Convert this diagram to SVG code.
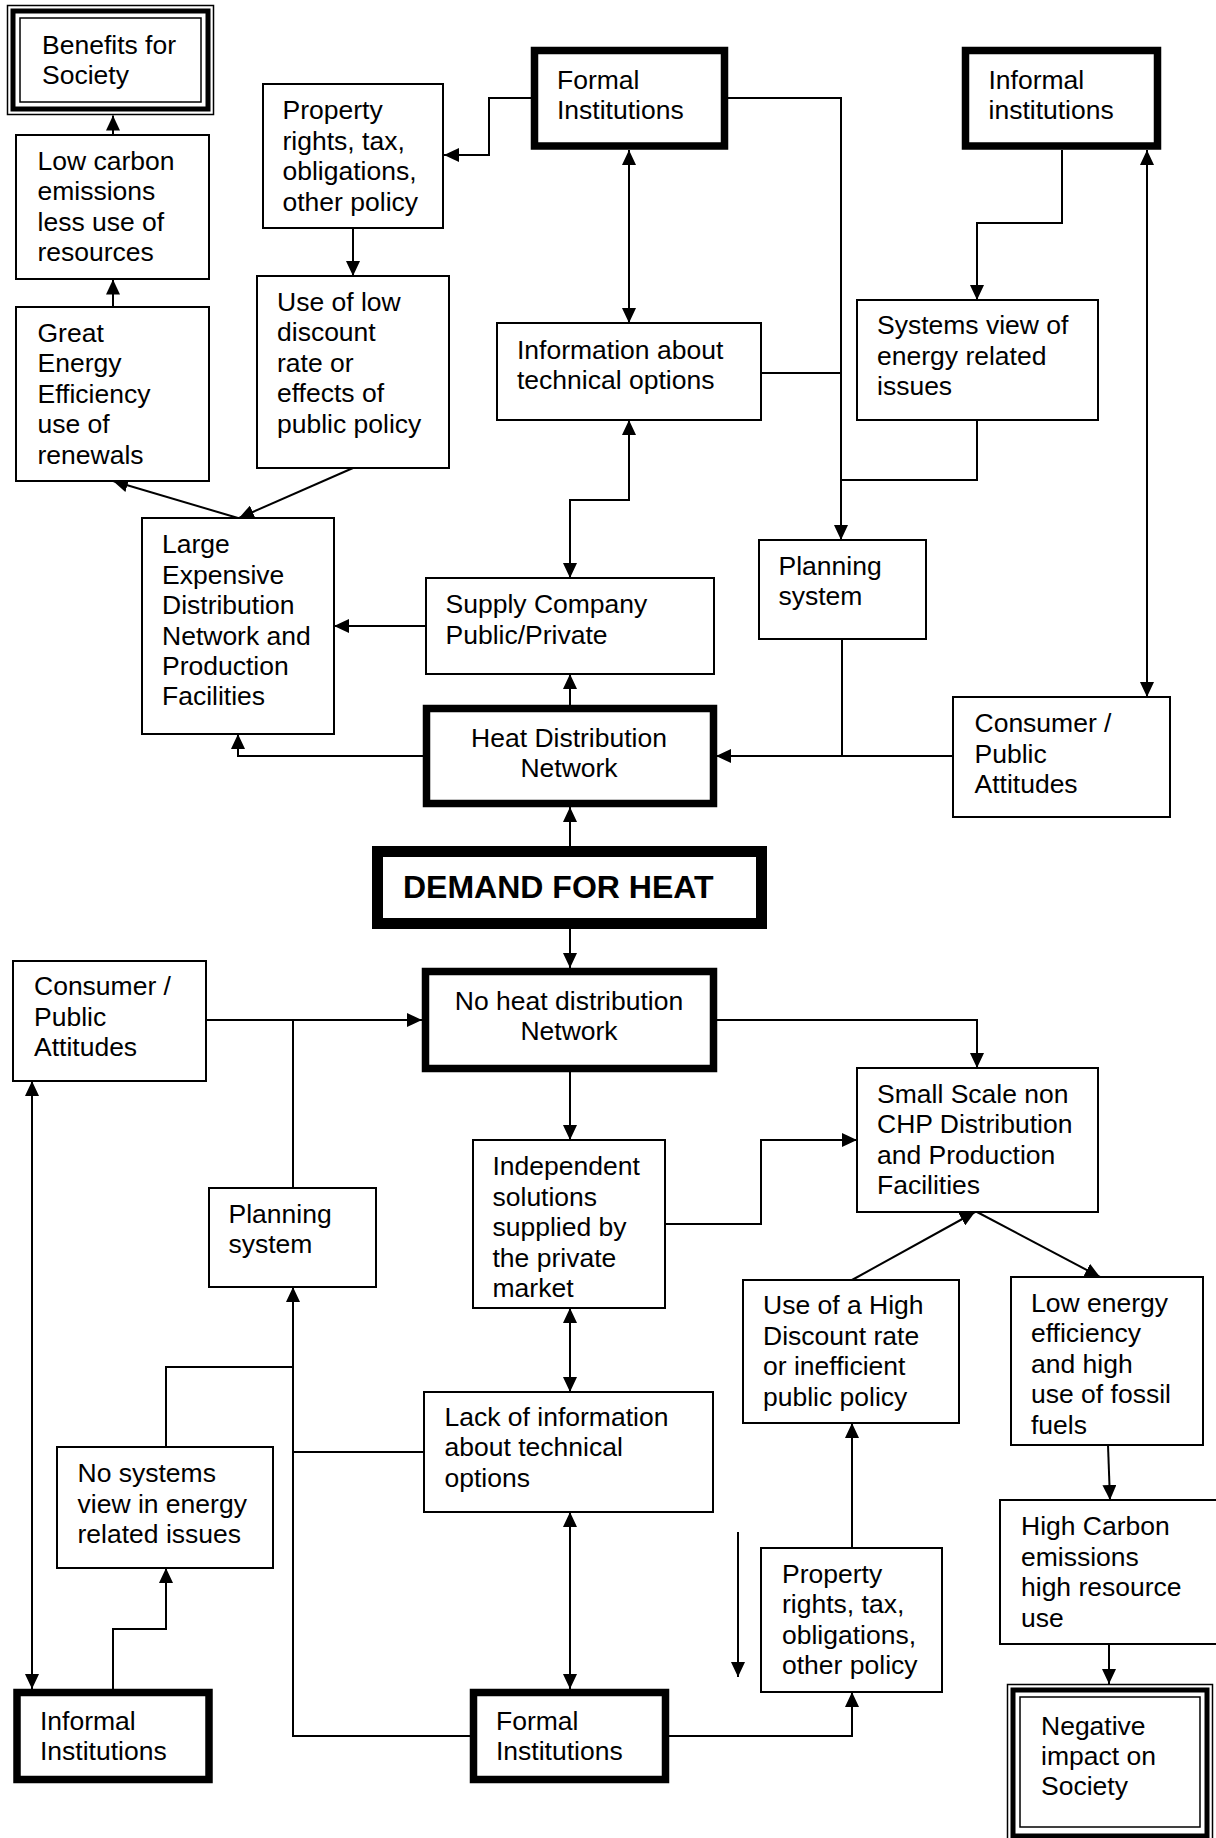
<svg xmlns="http://www.w3.org/2000/svg" width="1216" height="1838" viewBox="0 0 1216 1838">
<defs>
<style>
text{font-family:"Liberation Sans",Arial,sans-serif;font-size:26.5px;fill:#000}
.b{fill:#fff;stroke:#000;stroke-width:2}
.k{fill:#fff;stroke:#000;stroke-width:7.5}
.t1{fill:#fff;stroke:#000;stroke-width:1.5}
.t2{fill:none;stroke:#000;stroke-width:5}
.c path{fill:none;stroke:#000;stroke-width:2}
.m{text-anchor:middle}
</style>
<marker id="a" viewBox="0 0 15 14" refX="15" refY="7" markerWidth="15" markerHeight="14" markerUnits="userSpaceOnUse" orient="auto-start-reverse"><path d="M0,0 L15,7 L0,14 z" fill="#000"/></marker>
</defs>
<rect width="1216" height="1838" fill="#fff"/>
<g class="c">
<path d="M113,135 V115.5" marker-end="url(#a)"/>
<path d="M113,307 V279.5" marker-end="url(#a)"/>
<path d="M531,98 H489 V155 H444" marker-end="url(#a)"/>
<path d="M353,228 V276" marker-end="url(#a)"/>
<path d="M353,468 L239,518" marker-end="url(#a)"/>
<path d="M238,518 L113,481" marker-end="url(#a)"/>
<path d="M629,150 V323" marker-start="url(#a)" marker-end="url(#a)"/>
<path d="M728,98 H841 V540" marker-end="url(#a)"/>
<path d="M761,373 H841"/>
<path d="M1062,150 V223 H977 V300" marker-end="url(#a)"/>
<path d="M977,420 V480 H841"/>
<path d="M1147,150 V697" marker-start="url(#a)" marker-end="url(#a)"/>
<path d="M629,420 V500 H570 V578" marker-start="url(#a)" marker-end="url(#a)"/>
<path d="M426,626 H334" marker-end="url(#a)"/>
<path d="M570,705 V674" marker-end="url(#a)"/>
<path d="M423,756 H238 V734" marker-end="url(#a)"/>
<path d="M842,639 V756"/>
<path d="M953,756 H716" marker-end="url(#a)"/>
<path d="M570,846 V807" marker-end="url(#a)"/>
<path d="M570,929 V968" marker-end="url(#a)"/>
<path d="M206,1020 H422" marker-end="url(#a)"/>
<path d="M293,1188 V1020"/>
<path d="M717,1020 H977 V1068" marker-end="url(#a)"/>
<path d="M570,1072 V1140" marker-end="url(#a)"/>
<path d="M665,1224 H761 V1140 H857" marker-end="url(#a)"/>
<path d="M852,1280 L975,1212" marker-end="url(#a)"/>
<path d="M977,1212 L1100,1277" marker-end="url(#a)"/>
<path d="M570,1308 V1392" marker-start="url(#a)" marker-end="url(#a)"/>
<path d="M424,1452 H293"/>
<path d="M471,1736 H293 V1287" marker-end="url(#a)"/>
<path d="M166,1447 V1367 H293"/>
<path d="M113,1689 V1629 H166 V1568" marker-end="url(#a)"/>
<path d="M32,1081 V1689" marker-start="url(#a)" marker-end="url(#a)"/>
<path d="M570,1512 V1689" marker-start="url(#a)" marker-end="url(#a)"/>
<path d="M667,1736 H852 V1692" marker-end="url(#a)"/>
<path d="M852,1548 V1423" marker-end="url(#a)"/>
<path d="M738,1532 V1677" marker-end="url(#a)"/>
<path d="M1108,1445 L1110,1500" marker-end="url(#a)"/>
<path d="M1109,1644 V1684" marker-end="url(#a)"/>
</g>
<g id="benefits">
<rect class="t1" x="7.5" y="5.5" width="206" height="109"/>
<rect class="t2" x="13" y="11" width="195" height="98"/>
<rect class="t1" x="20" y="18" width="181" height="84"/>
<text x="42" y="54">Benefits for</text><text x="42" y="84">Society</text>
</g>
<g id="low-carbon">
<rect class="b" x="16" y="135" width="193" height="144"/>
<text x="37.5" y="170">Low carbon</text><text x="37.5" y="200">emissions</text><text x="37.5" y="231">less use of</text><text x="37.5" y="261">resources</text>
</g>
<g id="great-energy">
<rect class="b" x="16" y="307" width="193" height="174"/>
<text x="37.5" y="342">Great</text><text x="37.5" y="372">Energy</text><text x="37.5" y="403">Efficiency</text><text x="37.5" y="433">use of</text><text x="37.5" y="464">renewals</text>
</g>
<g id="property-top">
<rect class="b" x="263" y="84" width="180" height="144"/>
<text x="282.5" y="119">Property</text><text x="282.5" y="150">rights, tax,</text><text x="282.5" y="180">obligations,</text><text x="282.5" y="211">other policy</text>
</g>
<g id="low-discount">
<rect class="b" x="257" y="276" width="192" height="192"/>
<text x="277" y="311">Use of low</text><text x="277" y="341">discount</text><text x="277" y="372">rate or</text><text x="277" y="402">effects of</text><text x="277" y="433">public policy</text>
</g>
<g id="formal-top">
<rect class="k" x="534.5" y="50.5" width="190" height="95.5"/>
<text x="557" y="89">Formal</text><text x="557" y="119">Institutions</text>
</g>
<g id="informal-top">
<rect class="k" x="965.5" y="50.5" width="192" height="95.5"/>
<text x="988.5" y="89">Informal</text><text x="988.5" y="119">institutions</text>
</g>
<g id="info-top">
<rect class="b" x="497" y="323" width="264" height="97"/>
<text x="517" y="359">Information about</text><text x="517" y="389">technical options</text>
</g>
<g id="systems-view">
<rect class="b" x="857" y="300" width="241" height="120"/>
<text x="877" y="334">Systems view of</text><text x="877" y="365">energy related</text><text x="877" y="395">issues</text>
</g>
<g id="large-expensive">
<rect class="b" x="142" y="518" width="192" height="216"/>
<text x="162" y="553">Large</text><text x="162" y="584">Expensive</text><text x="162" y="614">Distribution</text><text x="162" y="645">Network and</text><text x="162" y="675">Production</text><text x="162" y="705">Facilities</text>
</g>
<g id="supply-company">
<rect class="b" x="426" y="578" width="288" height="96"/>
<text x="445.5" y="613">Supply Company</text><text x="445.5" y="644">Public/Private</text>
</g>
<g id="planning-top">
<rect class="b" x="759" y="540" width="167" height="99"/>
<text x="778.5" y="575">Planning</text><text x="778.5" y="605">system</text>
</g>
<g id="heat-network">
<rect class="k" x="426.5" y="708.5" width="287" height="95"/>
<text class="m" x="569" y="747">Heat Distribution</text><text class="m" x="569" y="777">Network</text>
</g>
<g id="consumer-top">
<rect class="b" x="953" y="697" width="217" height="120"/>
<text x="974.5" y="732">Consumer /</text><text x="974.5" y="763">Public</text><text x="974.5" y="793">Attitudes</text>
</g>
<g id="demand">
<rect fill="#fff" stroke="#000" stroke-width="11" x="377.5" y="851.5" width="384" height="72"/>
<text x="403" y="898" font-weight="bold" style="font-size:32px">DEMAND FOR HEAT</text>
</g>
<g id="consumer-bottom">
<rect class="b" x="13" y="961" width="193" height="120"/>
<text x="34" y="995">Consumer /</text><text x="34" y="1026">Public</text><text x="34" y="1056">Attitudes</text>
</g>
<g id="no-heat-network">
<rect class="k" x="425.5" y="971.5" width="288" height="97"/>
<text class="m" x="569" y="1010">No heat distribution</text><text class="m" x="569" y="1040">Network</text>
</g>
<g id="small-scale">
<rect class="b" x="857" y="1068" width="241" height="144"/>
<text x="877" y="1103">Small Scale non</text><text x="877" y="1133">CHP Distribution</text><text x="877" y="1164">and Production</text><text x="877" y="1194">Facilities</text>
</g>
<g id="independent">
<rect class="b" x="473" y="1140" width="192" height="168"/>
<text x="492.5" y="1175">Independent</text><text x="492.5" y="1206">solutions</text><text x="492.5" y="1236">supplied by</text><text x="492.5" y="1267">the private</text><text x="492.5" y="1297">market</text>
</g>
<g id="planning-bottom">
<rect class="b" x="209" y="1188" width="167" height="99"/>
<text x="228.5" y="1223">Planning</text><text x="228.5" y="1253">system</text>
</g>
<g id="high-discount">
<rect class="b" x="743" y="1280" width="216" height="143"/>
<text x="763" y="1314">Use of a High</text><text x="763" y="1345">Discount rate</text><text x="763" y="1375">or inefficient</text><text x="763" y="1406">public policy</text>
</g>
<g id="low-energy">
<rect class="b" x="1011" y="1277" width="192" height="168"/>
<text x="1031" y="1312">Low energy</text><text x="1031" y="1342">efficiency</text><text x="1031" y="1373">and high</text><text x="1031" y="1403">use of fossil</text><text x="1031" y="1434">fuels</text>
</g>
<g id="lack-info">
<rect class="b" x="424" y="1392" width="289" height="120"/>
<text x="444.5" y="1426">Lack of information</text><text x="444.5" y="1456">about technical</text><text x="444.5" y="1487">options</text>
</g>
<g id="no-systems">
<rect class="b" x="57" y="1447" width="216" height="121"/>
<text x="77.5" y="1482">No systems</text><text x="77.5" y="1513">view in energy</text><text x="77.5" y="1543">related issues</text>
</g>
<g id="high-carbon">
<rect class="b" x="1000" y="1500" width="230" height="144"/>
<text x="1021" y="1535">High Carbon</text><text x="1021" y="1566">emissions</text><text x="1021" y="1596">high resource</text><text x="1021" y="1627">use</text>
</g>
<g id="property-bottom">
<rect class="b" x="761" y="1548" width="181" height="144"/>
<text x="782" y="1583">Property</text><text x="782" y="1613">rights, tax,</text><text x="782" y="1644">obligations,</text><text x="782" y="1674">other policy</text>
</g>
<g id="informal-bottom">
<rect class="k" x="17" y="1692.5" width="192" height="87"/>
<text x="40" y="1730">Informal</text><text x="40" y="1760">Institutions</text>
</g>
<g id="formal-bottom">
<rect class="k" x="473.5" y="1692.5" width="192" height="87"/>
<text x="496" y="1730">Formal</text><text x="496" y="1760">Institutions</text>
</g>
<g id="negative">
<rect class="t1" x="1007.5" y="1684.5" width="205" height="157"/>
<rect class="t2" x="1013" y="1690" width="194" height="146"/>
<rect class="t1" x="1020" y="1697" width="180" height="130"/>
<text x="1041" y="1735">Negative</text><text x="1041" y="1765">impact on</text><text x="1041" y="1795">Society</text>
</g>
</svg>
